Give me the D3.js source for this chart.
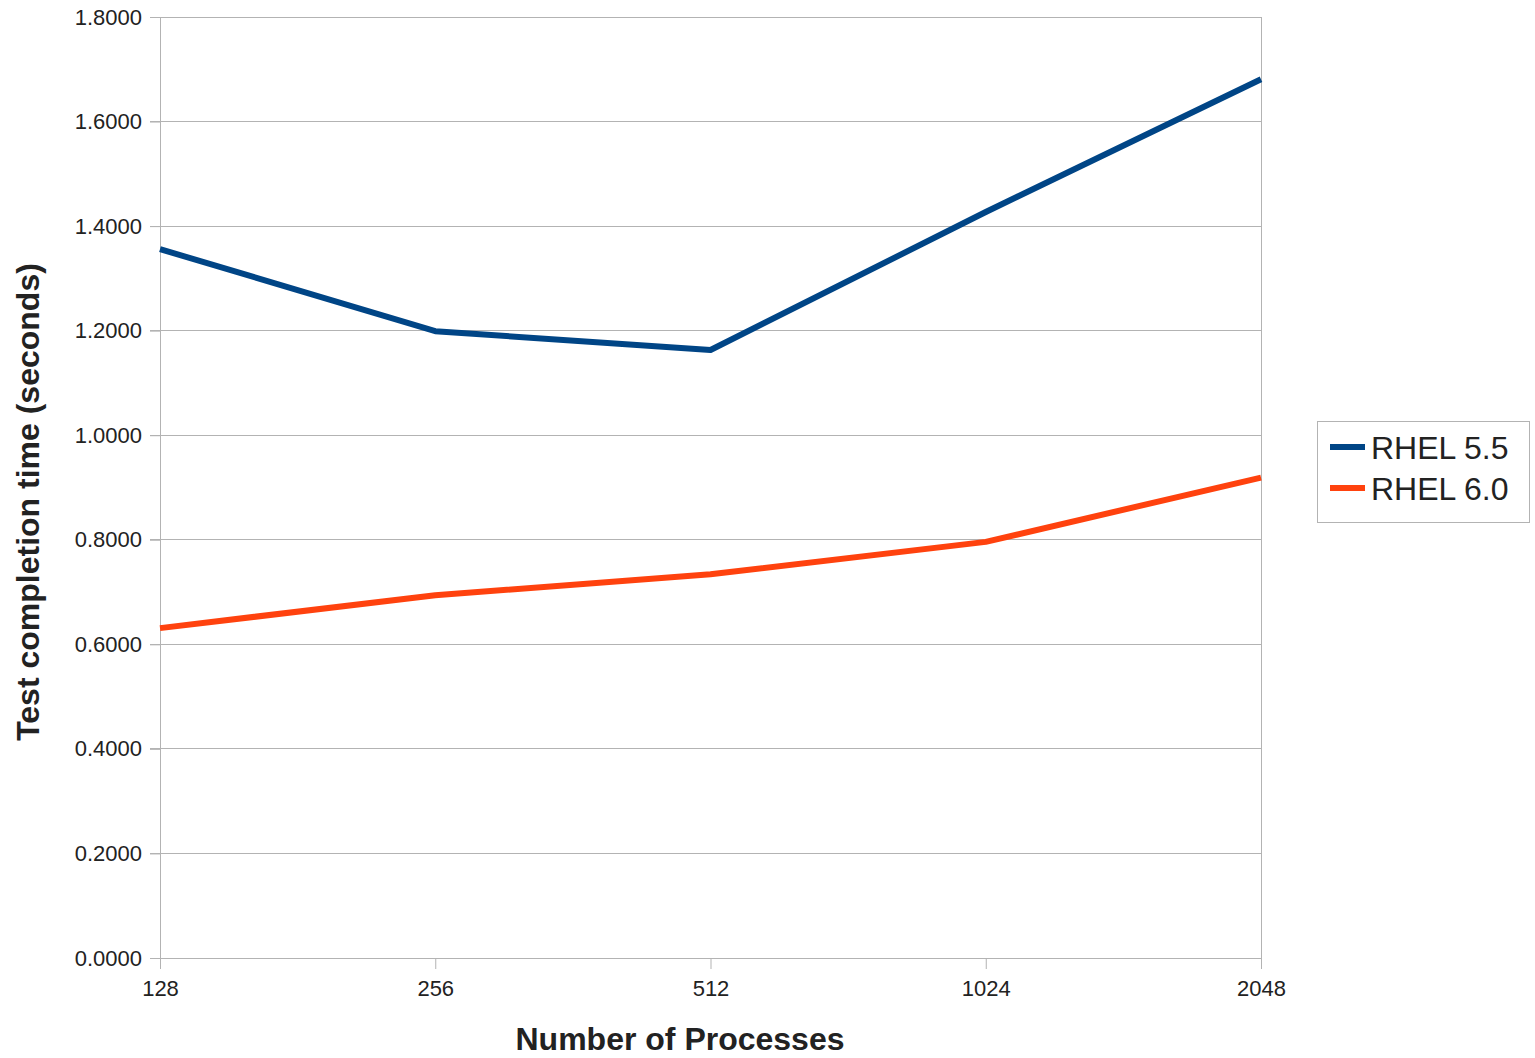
<!DOCTYPE html>
<html><head><meta charset="utf-8">
<script src="https://cdn.jsdelivr.net/npm/d3@7"></script>
<style>body{margin:0;background:#fff;} svg{display:block;}</style>
</head><body>
<script>
const categories = ["128", "256", "512", "1024", "2048"];
const seriesNames = ["RHEL 5.5", "RHEL 6.0"];
const rhel55 = [1.356, 1.199, 1.163, 1.427, 1.681];
const rhel60 = [0.631, 0.694, 0.734, 0.796, 0.919];
const yTicks = [0, 0.2, 0.4, 0.6, 0.8, 1.0, 1.2, 1.4, 1.6, 1.8];
const colors = ["#004586", "#ff420e"];

(function () {
const W = 1535, H = 1058;
const svg = d3.select("body").append("svg").attr("width", W).attr("height", H);
const pLeft = 160, pRight = 1261, pTop = 17, pBottom = 958;
const x = d3.scalePoint().domain(categories).range([pLeft, pRight]);
const y = d3.scaleLinear().domain([0, 1.8]).range([pBottom, pTop]);
const font = "'Liberation Sans', Arial, sans-serif";

// gridlines
svg.append("g").selectAll("line").data(yTicks).join("line")
  .attr("x1", pLeft - 10).attr("x2", pRight)
  .attr("y1", d => y(d)).attr("y2", d => y(d))
  .attr("stroke", "#b3b3b3").attr("stroke-width", 1).attr("shape-rendering", "crispEdges");

// y axis
const yAxis = svg.append("g").attr("transform", `translate(${pLeft},0)`)
  .call(d3.axisLeft(y).tickValues(yTicks).tickFormat(d3.format(".4f")).tickSize(10).tickPadding(8));
yAxis.select(".domain").attr("stroke", "#b3b3b3");
yAxis.selectAll(".tick line").attr("stroke", "#b3b3b3");
yAxis.selectAll("text").attr("font-family", font).attr("font-size", 22).attr("fill", "#222");

// right border
svg.append("line").attr("x1", pRight).attr("x2", pRight).attr("y1", pTop).attr("y2", pBottom)
  .attr("stroke", "#b3b3b3").attr("shape-rendering", "crispEdges");

// x axis
const xAxis = svg.append("g").attr("transform", `translate(0,${pBottom})`)
  .call(d3.axisBottom(x).tickSize(11).tickPadding(11));
xAxis.select(".domain").attr("stroke", "#b3b3b3");
xAxis.selectAll(".tick line").attr("stroke", "#b3b3b3");
xAxis.selectAll("text").attr("font-family", font).attr("font-size", 22).attr("fill", "#222");

// lines
const line = d3.line().x((d, i) => x(categories[i])).y(d => y(d));
[rhel55, rhel60].forEach((s, k) => {
  svg.append("path").datum(s).attr("d", line).attr("fill", "none")
    .attr("stroke", colors[k]).attr("stroke-width", 6).attr("stroke-linejoin", "round");
});

// axis titles
svg.append("text").attr("x", 680).attr("y", 1050).attr("text-anchor", "middle")
  .attr("font-family", font).attr("font-weight", "bold").attr("font-size", 32).attr("fill", "#222")
  .text("Number of Processes");
svg.append("text").attr("transform", "translate(39,502) rotate(-90)").attr("text-anchor", "middle")
  .attr("font-family", font).attr("font-weight", "bold").attr("font-size", 32).attr("fill", "#222")
  .text("Test completion time (seconds)");

// legend
const lg = svg.append("g");
lg.append("rect").attr("x", 1317.5).attr("y", 421.5).attr("width", 212).attr("height", 101)
  .attr("fill", "#fff").attr("stroke", "#b3b3b3");
seriesNames.forEach((n, k) => {
  const cy = 447 + k * 41;
  lg.append("line").attr("x1", 1330).attr("x2", 1365).attr("y1", cy).attr("y2", cy)
    .attr("stroke", colors[k]).attr("stroke-width", 6);
  lg.append("text").attr("x", 1371).attr("y", cy + 12).attr("font-family", font)
    .attr("font-size", 32).attr("fill", "#222").text(n);
});
})();
</script>
</body></html>
